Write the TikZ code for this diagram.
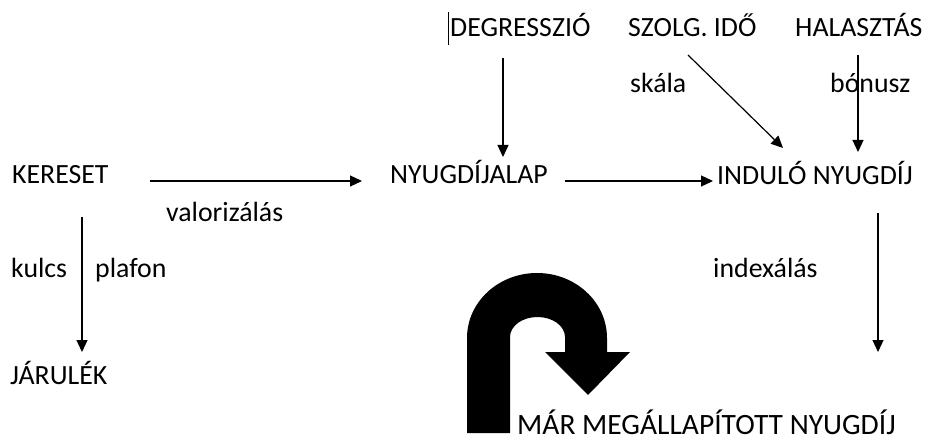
\documentclass[tikz,border=0pt]{standalone}
\usepackage{fontspec}
\setmainfont{Carlito}
\usetikzlibrary{arrows.meta}
\tikzset{
  lbl/.style={anchor=base west, inner sep=0pt, font=\fontsize{27.8}{30}\selectfont},
  biglbl/.style={lbl, font=\fontsize{29.5}{32}\selectfont},
  arr/.style={line width=1.2pt, -{Triangle[length=12pt,width=11pt]}},
}
\begin{document}
\begin{tikzpicture}[x=1pt,y=-1pt]
\useasboundingbox (0,0) rectangle (943,441);
% nodes
\node[lbl] (kereset) at (12,184) {KERESET};
\node[lbl] (alap) at (390,184) {NYUGDÍJALAP};
\node[lbl] (indulo) at (717,185) {INDULÓ NYUGDÍJ};
\node[lbl] (degr) at (450,37) {DEGRESSZIÓ};
\node[lbl] (szolg) at (628,37) {SZOLG. IDŐ};
\node[lbl] (halaszt) at (795,37) {HALASZTÁS};
\node[lbl] (jarulek) at (10,384) {JÁRULÉK};
\node[biglbl] (mar) at (517,434) {MÁR MEGÁLLAPÍTOTT NYUGDÍJ};
% labels
\node[lbl] (valor) at (166,222) {valorizálás};
\node[lbl] (kulcs) at (11,277) {kulcs};
\node[lbl] (plafon) at (95,277) {plafon};
\node[lbl] (skala) at (630,93) {skála};
\node[lbl] (bonusz) at (830,93) {bónusz};
\node[lbl] (index) at (713,277) {indexálás};
% connector endpoints
\coordinate (k1) at (150,181);  \coordinate (k2) at (362,181);
\coordinate (a1) at (565,181);  \coordinate (a2) at (713,181);
\coordinate (kd1) at (82,217);  \coordinate (kd2) at (82,352);
\coordinate (d1) at (503,58);   \coordinate (d2) at (503,157);
\coordinate (s1) at (688,55);   \coordinate (s2) at (783,148);
\coordinate (h1) at (858,55);   \coordinate (h2) at (858,152);
\coordinate (i1) at (878,213);  \coordinate (i2) at (878,352);
% connectors
\draw[arr] (k1) -- (k2);
\draw[arr] (a1) -- (a2);
\draw[arr] (kd1) -- (kd2);
\draw[arr] (d1) -- (d2);
\draw[arr] (s1) -- (s2);
\draw[arr] (h1) -- (h2);
\draw[arr] (i1) -- (i2);
% text cursor
\draw[line width=1pt] (448,12) -- (448,45);
% U-turn arrow
\fill[black] (467,433) -- (467,338)
  arc[start angle=180,end angle=0,x radius=70pt,y radius=65pt]
  -- (607,352) -- (630,352) -- (588,395) -- (545,352) -- (565,352) -- (565,337)
  arc[start angle=0,end angle=180,x radius=27.5pt,y radius=20pt]
  -- (510,433) -- cycle;
\end{tikzpicture}
\end{document}
